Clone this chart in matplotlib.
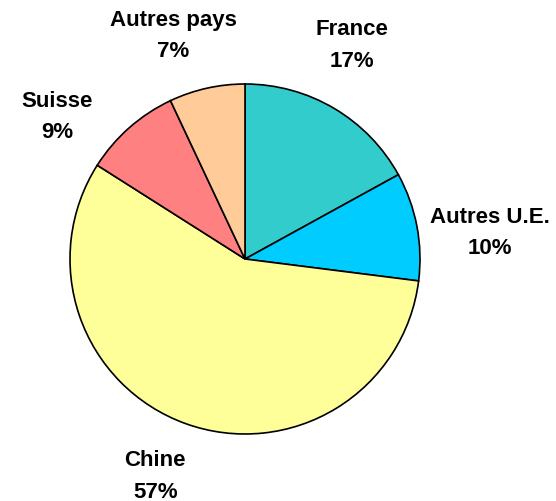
import matplotlib
matplotlib.use("Agg")
import numpy as np
import matplotlib.pyplot as plt

categories = ["France", "Autres U.E.", "Chine", "Suisse", "Autres pays"]
values = [17, 10, 57, 9, 7]
colors = ["#33CCCC", "#00CCFF", "#FFFF99", "#FF8080", "#FFCC99"]

# label placement tweaks (distance from centre in radii, angle shift in degrees)
label_dist = [1.37, 1.41, 1.34, 1.35, 1.345]
label_shift = [4.0, -4.5, -2.7, 11.3, 5.2]

plt.rcParams['font.family'] = ['Liberation Sans', 'DejaVu Sans']

fig = plt.figure(figsize=(5.56, 5.02), dpi=100)
ax = fig.add_axes([245/556 - 175/556, 1 - 260/502 - 175/502, 350/556, 350/502])

labels = [f"{c}\n{v}%" for c, v in zip(categories, values)]
wedges, texts = ax.pie(values, colors=colors, startangle=90, counterclock=False,
                       labels=labels, labeldistance=1.35,
                       wedgeprops=dict(edgecolor="black", linewidth=1.2),
                       textprops=dict(fontsize=16, fontweight="bold",
                                      linespacing=1.65))
for w, t, d, s in zip(wedges, texts, label_dist, label_shift):
    ang = np.deg2rad((w.theta1 + w.theta2) / 2 + s)
    t.set_position((d * np.cos(ang), d * np.sin(ang)))
    t.set_ha("center")
    t.set_va("center")
ax.set_xlim(-1, 1)
ax.set_ylim(-1, 1)
ax.set_aspect("equal")

fig.savefig("out.png", dpi=100)
